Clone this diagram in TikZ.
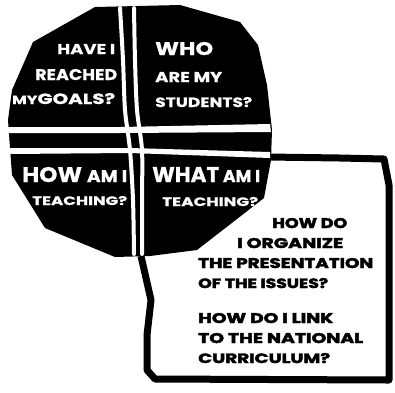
\documentclass[tikz,border=0pt]{standalone}
\usepackage{fontspec}
\setmainfont{Poppins}
\usepackage{graphicx}
\newcommand{\myfit}[3]{\resizebox{#1pt}{#2pt}{#3}}
\begin{document}
\begin{tikzpicture}[x=1pt,y=-1pt,
  wt/.style={text=white, inner sep=0pt, anchor=base west, font=\bfseries\addfontfeature{FakeBold=0.6}},
  bt/.style={text=black, inner sep=0pt, anchor=base west, font=\bfseries\addfontfeature{FakeBold=2.5}},
  bar/.style={white, line width=4pt, line cap=round}]
\useasboundingbox (0,0) rectangle (395,392);
% speech box outline
\draw[line width=7pt, line join=round] (268,157) -- (340,158) -- (384,159) -- (389,185) -- (389,380) -- (155,379) -- (147,370) -- (147,335) -- (151,300) -- (141,256);
% black octagon
\fill[black] (95,7) -- (180,5) -- (240,22) -- (258,45) -- (267,85) -- (272,130) -- (271,160) -- (264,198) -- (197,250) -- (150,256) -- (115,257) -- (45,228) -- (12,175) -- (8,120) -- (12,90) -- (33,42) -- cycle;
% white cross
\draw[bar] plot[smooth] coordinates {(120,8) (123,60) (125,110) (130,150) (133,200) (134,254)};
\draw[bar] plot[smooth] coordinates {(134,8) (135,60) (137,110) (142,150) (142,200) (142,254)};
\fill[white] (8,127) -- (120,127) -- (270,124) -- (271,132) -- (120,133) -- (8,133) -- cycle;
\fill[white] (8,148) -- (130,148) -- (270,152) -- (270,158) -- (130,153) -- (8,154) -- cycle;
% white texts
\node[wt] (t1) at (57,54) {\myfit{58}{10}{HAVE I}};
\node[wt] (t2) at (35,80) {\myfit{82}{11}{REACHED}};
\node[wt] (t3) at (12,104) {\myfit{103}{11}{{\footnotesize MY}GOALS?}};
\node[wt] (t4) at (155,55) {\myfit{58}{13}{WHO}};
\node[wt] (t5) at (155,82) {\myfit{67}{10}{ARE MY}};
\node[wt] (t6) at (155,107) {\myfit{97}{10}{STUDENTS?}};
\node[wt] (t7) at (22,182) {\myfit{105}{15}{HOW {\footnotesize AM I}}};
\node[wt] (t8) at (32,205) {\myfit{95}{9}{TEACHING?}};
\node[wt] (t9) at (152,182) {\myfit{108}{15}{WHAT{\footnotesize\ AM I}}};
\node[wt] (t10) at (162,206) {\myfit{96}{9}{TEACHING?}};
% black texts
\node[bt] (b1) at (272,228) {\myfit{75}{10}{HOW DO}};
\node[bt] (b2) at (237,248) {\myfit{106}{10}{I ORGANIZE}};
\node[bt] (b3) at (198,268) {\myfit{175}{10}{THE PRESENTATION}};
\node[bt] (b4) at (198,288) {\myfit{130}{10}{OF THE ISSUES?}};
\node[bt] (b5) at (198,323) {\myfit{135}{10}{HOW DO I LINK}};
\node[bt] (b6) at (198,343) {\myfit{165}{10}{TO THE NATIONAL}};
\node[bt] (b7) at (198,363) {\myfit{132}{10}{CURRICULUM?}};
\end{tikzpicture}
\end{document}
